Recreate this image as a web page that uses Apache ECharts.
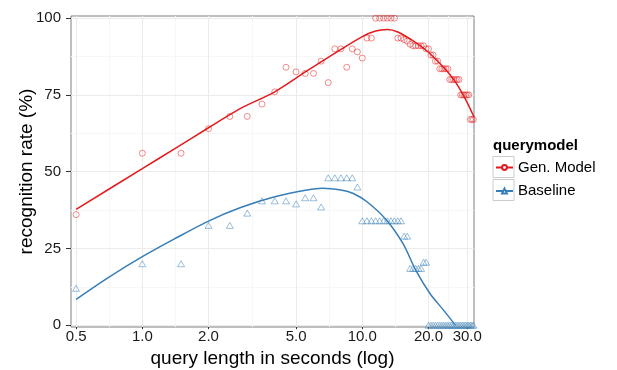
<!DOCTYPE html>
<html>
<head>
<meta charset="utf-8">
<script src="https://cdn.jsdelivr.net/npm/echarts@6/dist/echarts.min.js"></script>
<style>
  html, body { margin: 0; padding: 0; background: #fff; }
  #chart { width: 617px; height: 370px; }
</style>
</head>
<body>
<div id="chart"></div>
<script>
// query lengths (s) shared by both models
const queryLengths = [
  0.5, 1, 1.5, 2, 2.5, 3, 3.5, 4, 4.5, 5, 5.5, 6, 6.5, 7, 7.5, 8, 8.5, 9, 9.5, 10,
  10.5, 11, 11.5, 12, 12.5, 13, 13.5, 14, 14.5, 15, 15.5, 16, 16.5, 17, 17.5, 18, 18.5, 19, 19.5, 20,
  20.5, 21, 21.5, 22, 22.5, 23, 23.5, 24, 24.5, 25, 25.5, 26, 26.5, 27, 27.5, 28, 28.5, 29, 29.5, 30,
  30.5, 31, 31.5, 32
];
const genModelRate = [
  36, 56, 56, 64, 68, 68, 72, 76, 84, 82.5, 82, 82, 86, 79, 90, 90, 84, 90, 89, 87,
  93.5, 93.5, 100, 100, 100, 100, 100, 100, 93.5, 93.5, 93, 92.5, 91.5, 91, 91, 91, 91, 91, 90, 90,
  88, 88, 86, 86, 83.5, 83.5, 83.5, 83.5, 83.5, 80, 80, 80, 80, 80, 80, 75, 75, 75, 75, 75,
  75, 67, 67, 67
];
const baselineRate = [
  12, 20, 20, 32.5, 32.5, 36.5, 40.5, 40.5, 40.5, 39.5, 41.5, 41.5, 38.5, 48, 48, 48, 48, 48, 45, 34,
  34, 34, 34, 34, 34, 34, 34, 34, 34, 34, 29, 29, 18.5, 18.5, 18.5, 18.5, 18.5, 20.5, 20.5, 0,
  0, 0, 0, 0, 0, 0, 0, 0, 0, 0, 0, 0, 0, 0, 0, 0, 0, 0, 0, 0,
  0, 0, 0, 0
];

// smoothed fits
const genFitX = [0.5, 1, 1.4, 2, 2.8, 4, 5.6, 8, 10, 11.5, 13, 14.5, 17.3, 19.7, 21.8, 24.1, 26.8, 29.6, 32.2];
const genFitY = [37.7, 51, 57.4, 64.3, 70.6, 76, 82.8, 89.8, 94, 95.8, 96.3, 95.5, 92.3, 89.3, 86.3, 83, 78.7, 73.3, 67.8];
const baseFitX = [0.5, 0.7, 1, 1.4, 2, 2.8, 4, 5.6, 6.6, 8, 9.1, 10.5, 12.9, 15.3, 17.5, 20.3, 23.4, 26.5];
const baseFitY = [8.4, 15.5, 22.3, 28.1, 33.9, 38.3, 41.8, 44, 44.6, 44, 42.9, 40.2, 34.2, 26.6, 17.9, 10.3, 4.9, 0];

const xTicks = [0.5, 1, 2, 5, 10, 20, 30];
const xMinor = [0.707, 1.414, 3.162, 7.071, 14.14, 24.49];
const yTicks = [0, 25, 50, 75, 100];
const yMinor = [12.5, 37.5, 62.5, 87.5];

const RED = '#e41a1c';
const BLUE = '#377eb8';
const FONT = 'Liberation Sans, Arial, sans-serif';

const zip = (xs, ys) => xs.map((x, i) => [x, ys[i]]);

const chart = echarts.init(document.getElementById('chart'));

const gridLines = [
  ...xMinor.map(v => ({ xAxis: v, lineStyle: { color: '#f7f7f7', width: 1, type: 'solid' } })),
  ...yMinor.map(v => ({ yAxis: v, lineStyle: { color: '#f7f7f7', width: 1, type: 'solid' } })),
  ...xTicks.map(v => ({ xAxis: v, lineStyle: { color: '#ebebeb', width: 1, type: 'solid' } })),
  ...yTicks.map(v => ({ yAxis: v, lineStyle: { color: '#ebebeb', width: 1, type: 'solid' } }))
];

chart.setOption({
  animation: false,
  textStyle: { fontFamily: FONT },
  grid: {
    left: 71, right: 143, top: 16, bottom: 43,
    outerBoundsMode: 'none',
    show: true, borderColor: '#7f7f7f', borderWidth: 1, backgroundColor: '#fff'
  },
  title: {
    text: 'querymodel', left: 493, top: 138, padding: 0,
    textStyle: { fontFamily: FONT, fontSize: 15, fontWeight: 'bold', color: '#000' }
  },
  legend: {
    orient: 'vertical', left: 495, top: 160, padding: 0,
    itemWidth: 17, itemHeight: 6, itemGap: 8.5,
    data: ['Gen. Model', 'Baseline'],
    textStyle: { fontFamily: FONT, fontSize: 15, color: '#000' }
  },
  graphic: [
    { type: 'rect', z: 0, shape: { x: 493, y: 156.5, width: 21, height: 21 }, style: { fill: '#fff', stroke: '#cccccc' } },
    { type: 'rect', z: 0, shape: { x: 493, y: 179.5, width: 21, height: 21 }, style: { fill: '#fff', stroke: '#cccccc' } }
  ],
  xAxis: {
    type: 'log', logBase: 10, min: 0.474, max: 32.2,
    name: 'query length in seconds (log)', nameLocation: 'middle', nameGap: 22, nameMoveOverlap: false,
    nameTextStyle: { fontFamily: FONT, fontSize: 19, color: '#000' },
    axisLine: { show: false },
    axisTick: { show: true, customValues: xTicks, length: 4, lineStyle: { color: '#333' } },
    axisLabel: {
      customValues: xTicks, margin: 2, fontSize: 15, color: '#1a1a1a', fontFamily: FONT,
      formatter: v => Number(v).toFixed(1)
    },
    splitLine: { show: false },
    minorSplitLine: { show: false }
  },
  yAxis: {
    type: 'value', min: -0.6, max: 100.7,
    name: 'recognition rate (%)', nameLocation: 'middle', nameGap: 35, nameRotate: 90, nameMoveOverlap: false,
    nameTextStyle: { fontFamily: FONT, fontSize: 19, color: '#000' },
    axisLine: { show: false },
    axisTick: { show: true, customValues: yTicks, length: 5, lineStyle: { color: '#333' } },
    axisLabel: { customValues: yTicks, margin: 10, fontSize: 15, color: '#1a1a1a', fontFamily: FONT },
    splitLine: { show: false }
  },
  series: [
    {
      name: 'Gen. Model', type: 'line', z: 4, smooth: 0.3,
      data: zip(genFitX, genFitY),
      symbol: 'emptyCircle', symbolSize: 0, showSymbol: false,
      lineStyle: { color: RED, width: 1.5 }, itemStyle: { color: RED }
    },
    {
      name: 'Baseline', type: 'line', z: 4, smooth: 0.3,
      data: zip(baseFitX, baseFitY),
      symbol: 'emptyTriangle', symbolSize: 0, showSymbol: false,
      lineStyle: { color: BLUE, width: 1.5 }, itemStyle: { color: BLUE }
    },
    {
      name: 'grid', type: 'scatter', z: 1, silent: true, data: [],
      markLine: { z: 1, silent: true, symbol: 'none', label: { show: false }, animation: false, data: gridLines }
    },
    {
      name: 'Gen. Model', type: 'scatter', z: 3, clip: false,
      data: zip(queryLengths, genModelRate),
      symbol: 'circle', symbolSize: 6,
      itemStyle: { color: 'rgba(0,0,0,0)', borderColor: 'rgba(228,26,28,0.7)', borderWidth: 0.9 }
    },
    {
      name: 'Baseline', type: 'scatter', z: 3, clip: false,
      data: zip(queryLengths, baselineRate),
      symbol: 'triangle', symbolSize: [7, 6],
      itemStyle: { color: 'rgba(0,0,0,0)', borderColor: 'rgba(55,126,184,0.7)', borderWidth: 0.9 }
    }
  ]
});
</script>
</body>
</html>
